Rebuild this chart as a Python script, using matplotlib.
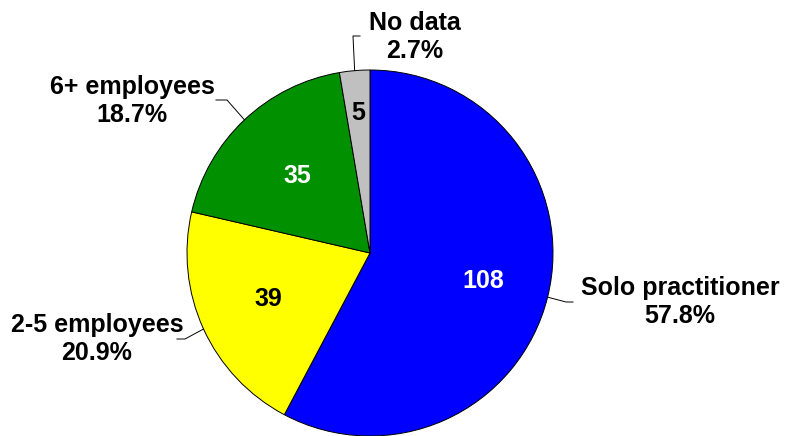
import numpy as np
import matplotlib.pyplot as plt

plt.rcParams['font.family'] = ['Liberation Sans', 'DejaVu Sans']
plt.rcParams['font.weight'] = 'bold'

categories = ['Solo practitioner', '2-5 employees', '6+ employees', 'No data']
counts = [108, 39, 35, 5]
colors = ['#0000FF', '#FFFF00', '#009000', '#C0C0C0']
count_colors = ['white', 'black', 'white', 'black']

# radial position of the count inside each slice (fraction of radius)
count_radius = [0.636, 0.61, 0.58, 0.77]

# label block centres and leader-line bends (pixel coords, y down)
label_pos = [(680, 302), (97, 339), (132, 101), (415, 37)]
leader_bends = [[(566, 302), (573, 302)],
                [(185, 339), (177, 339)],
                [(227, 100), (216, 100)],
                [(353, 36), (360, 36)]]

W, H = 791, 436
cx, cy, R = 370, 183, 183

fig = plt.figure(figsize=(W / 100, H / 100), dpi=100)
ax = fig.add_axes([0, 0, 1, 1])

wedges, _ = ax.pie(counts, colors=colors, startangle=90, counterclock=False,
                   radius=R, center=(cx, cy), frame=True,
                   wedgeprops=dict(edgecolor='black', linewidth=0.7))
ax.set_xlim(0, W)
ax.set_ylim(0, H)
ax.set_aspect('equal')
ax.axis('off')

total = sum(counts)
for w, n, c, r, name, lp, bends in zip(wedges, counts, count_colors, count_radius,
                                       categories, label_pos, leader_bends):
    mid = np.deg2rad((w.theta1 + w.theta2) / 2)
    ax.text(cx + r * R * np.cos(mid), cy + r * R * np.sin(mid), str(n),
            ha='center', va='center', fontsize=18, fontweight='bold', color=c)

    # leader line from slice edge to the label
    ex, ey = cx + R * np.cos(mid), cy + R * np.sin(mid)
    xs = [ex] + [b[0] for b in bends]
    ys = [ey] + [H - b[1] for b in bends]
    ax.plot(xs, ys, color='black', linewidth=0.7, clip_on=False)

    pct = 100 * n / total
    ax.text(lp[0], H - lp[1], f'{name}\n{pct:.1f}%', ha='center', va='center',
            fontsize=18, fontweight='bold', linespacing=1.2)

fig.savefig('out.png', dpi=100)
